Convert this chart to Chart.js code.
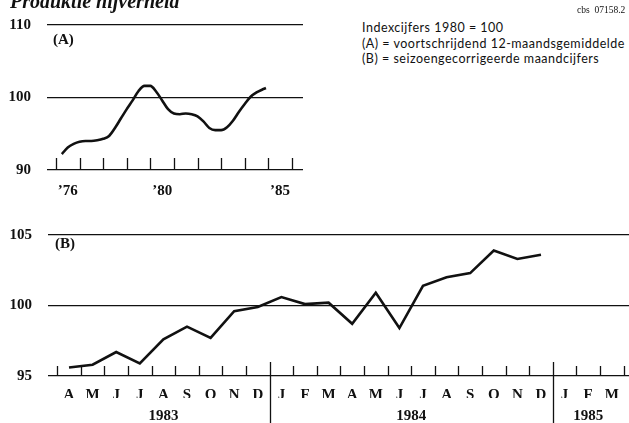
<!DOCTYPE html>
<html>
<head>
<meta charset="utf-8">
<script src="https://cdn.jsdelivr.net/npm/chart.js@4.4.0/dist/chart.umd.min.js"></script>
<style>
  html, body { margin: 0; padding: 0; background: #fff; }
  #page { position: relative; width: 629px; height: 423px; overflow: hidden; background: #fff; }
  canvas { position: absolute; left: 0; }
  #chartA { top: 0; }
  #chartB { top: 210px; }
  .lbl { position: absolute; white-space: nowrap; color: #111; }
  .serif { font-family: "Liberation Serif", serif; font-weight: bold; font-size: 15px; line-height: 15px; }
  #title { left: 10px; top: -9px; font-family: "Liberation Serif", serif; font-weight: bold; font-style: italic; font-size: 20px; line-height: 20px; }
  #code { left: 577px; top: 5px; font-family: "Liberation Serif", serif; font-size: 9.5px; }
  #notes { left: 362px; top: 20px; font-family: Lato, sans-serif; font-size: 12.5px; letter-spacing: 0.5px; line-height: 15.5px; }
</style>
</head>
<body>
<div id="page">
  <canvas id="chartA" width="320" height="210"></canvas>
  <canvas id="chartB" width="629" height="213"></canvas>
  <div id="title" class="lbl">Produktie nijverheid</div>
  <div id="code" class="lbl">cbs&nbsp;&nbsp;07158.2</div>
  <div id="notes" class="lbl">Indexcijfers 1980 = 100<br>(A) = voortschrijdend 12-maandsgemiddelde<br>(B) = seizoengecorrigeerde maandcijfers</div>
  <div class="lbl serif" style="left:53px; top:32px;">(A)</div>
  <div class="lbl serif" style="left:55px; top:236px;">(B)</div>
</div>
<script>
// (A) 12-month moving average, quarterly readings
const timesA = [1976.25, 1976.5, 1976.75, 1977, 1977.25, 1977.5, 1977.75, 1978, 1978.25, 1978.5, 1978.75,
  1979, 1979.25, 1979.5, 1979.75, 1980, 1980.25, 1980.5, 1980.75, 1981, 1981.25, 1981.5, 1981.75,
  1982, 1982.25, 1982.5, 1982.75, 1983, 1983.25, 1983.5, 1983.75, 1984, 1984.25, 1984.5, 1984.75, 1984.9];
const valuesA = [92.2, 93.1, 93.6, 93.9, 94.0, 94.0, 94.1, 94.3, 94.7, 95.8, 97.1,
  98.4, 99.6, 100.9, 101.6, 101.6, 100.8, 99.6, 98.4, 97.8, 97.7, 97.8, 97.7,
  97.4, 96.7, 95.8, 95.5, 95.5, 95.9, 96.8, 98.0, 99.1, 100.1, 100.7, 101.1, 101.3];
const yTicksA = [90, 100, 110];
const yearMarksA = [1976, 1977, 1978, 1979, 1980, 1981, 1982, 1983, 1984, 1985, 1986];
const labelYearsA = [1976, 1980, 1985];
const yearLabelsA = ["\u201976", "\u201980", "\u201985"];

// (B) seasonally adjusted monthly figures, April 1983 - December 1984
const monthsB = ["A", "M", "J", "J", "A", "S", "O", "N", "D",
  "J", "F", "M", "A", "M", "J", "J", "A", "S", "O", "N", "D",
  "J", "F", "M"];
const valuesB = [95.6, 95.8, 96.7, 95.9, 97.6, 98.5, 97.7, 99.6, 99.9,
  100.6, 100.1, 100.2, 98.7, 100.9, 98.4, 101.4, 102.0, 102.3, 103.9, 103.3, 103.6];
const yTicksB = [95, 100, 105];
const yearsB = ["1983", "1984", "1985"];
const yearBoundsB = [0, 9, 21, 24];

const INK = "#111";
const serif = { family: "'Liberation Serif', serif", size: 15, weight: "bold" };

// short tick marks standing up from the baseline, plus the long year dividers
const innerTicks = {
  id: "innerTicks",
  afterDraw(chart, args, opts) {
    const { ctx, chartArea } = chart;
    const xs = chart.scales.x;
    ctx.save();
    ctx.strokeStyle = INK;
    ctx.lineWidth = 1.3;
    ctx.beginPath();
    opts.values.forEach(v => {
      const px = Math.round(xs.getPixelForValue(v)) + 0.5;
      ctx.moveTo(px, chartArea.bottom);
      ctx.lineTo(px, chartArea.bottom - opts.length);
    });
    (opts.dividers || []).forEach(v => {
      const px = Math.round(xs.getPixelForValue(v)) + 0.5;
      ctx.moveTo(px, chartArea.bottom - opts.dividerUp);
      ctx.lineTo(px, chart.height);
    });
    ctx.stroke();
    ctx.restore();
  }
};

new Chart(document.getElementById("chartA"), {
  type: "line",
  data: {
    datasets: [{
      data: timesA.map((t, i) => ({ x: t, y: valuesA[i] })),
      borderColor: INK,
      borderWidth: 2.6,
      pointRadius: 0,
      cubicInterpolationMode: "monotone",
      fill: false
    }]
  },
  options: {
    responsive: false,
    animation: false,
    devicePixelRatio: 1,
    layout: { padding: { top: 25, right: 17, left: 0, bottom: 0 } },
    plugins: {
      legend: { display: false },
      tooltip: { enabled: false },
      innerTicks: { values: yearMarksA, length: 12 }
    },
    scales: {
      x: {
        type: "linear",
        min: 1975.62,
        max: 1986.47,
        grid: { display: false },
        border: { display: false },
        afterBuildTicks: s => { s.ticks = labelYearsA.map(y => ({ value: y + 0.5 })); },
        afterFit: s => { s.height = 40; },
        ticks: { autoSkip: false, maxRotation: 0, padding: 4, font: serif, color: INK,
          callback: (v, i) => yearLabelsA[i] }
      },
      y: {
        min: 90,
        max: 110,
        afterBuildTicks: s => { s.ticks = yTicksA.map(v => ({ value: v })); },
        afterFit: s => { s.width = 47; },
        grid: { color: INK, lineWidth: 1.3, drawTicks: false },
        border: { display: false },
        ticks: { padding: 16, font: serif, color: INK }
      }
    }
  },
  plugins: [innerTicks]
});

new Chart(document.getElementById("chartB"), {
  type: "line",
  data: {
    datasets: [{
      data: valuesB.map((v, i) => ({ x: i + 0.5, y: v })),
      borderColor: INK,
      borderWidth: 2.6,
      pointRadius: 0,
      tension: 0,
      fill: false
    }]
  },
  options: {
    responsive: false,
    animation: false,
    devicePixelRatio: 1,
    layout: { padding: { top: 22, right: 0, left: 0, bottom: 0 } },
    plugins: {
      legend: { display: false },
      tooltip: { enabled: false },
      innerTicks: {
        values: monthsB.map((m, i) => i).concat([monthsB.length]),
        length: 10,
        dividers: [yearBoundsB[1], yearBoundsB[2]],
        dividerUp: 14
      }
    },
    scales: {
      x: {
        type: "linear",
        min: -0.39,
        max: 24.23,
        grid: { display: false },
        border: { display: false },
        afterBuildTicks: s => { s.ticks = monthsB.map((m, i) => ({ value: i + 0.5 })); },
        afterFit: s => { s.height = 22; },
        ticks: { autoSkip: false, maxRotation: 0, padding: 2, font: serif, color: INK,
          callback: (v, i) => monthsB[i] }
      },
      x2: {
        type: "linear",
        position: "bottom",
        min: -0.39,
        max: 24.23,
        grid: { display: false },
        border: { display: false },
        afterBuildTicks: s => {
          s.ticks = yearsB.map((y, i) => ({ value: (yearBoundsB[i] + yearBoundsB[i + 1]) / 2 }));
        },
        afterFit: s => { s.height = 25; },
        ticks: { autoSkip: false, maxRotation: 0, padding: 1, font: serif, color: INK,
          callback: (v, i) => yearsB[i] }
      },
      y: {
        min: 95,
        max: 105,
        afterBuildTicks: s => { s.ticks = yTicksB.map(v => ({ value: v })); },
        afterFit: s => { s.width = 48; },
        grid: { color: INK, lineWidth: 1.3, drawTicks: false },
        border: { display: false },
        ticks: { padding: 16, font: serif, color: INK }
      }
    }
  },
  plugins: [innerTicks]
});
</script>
</body>
</html>
